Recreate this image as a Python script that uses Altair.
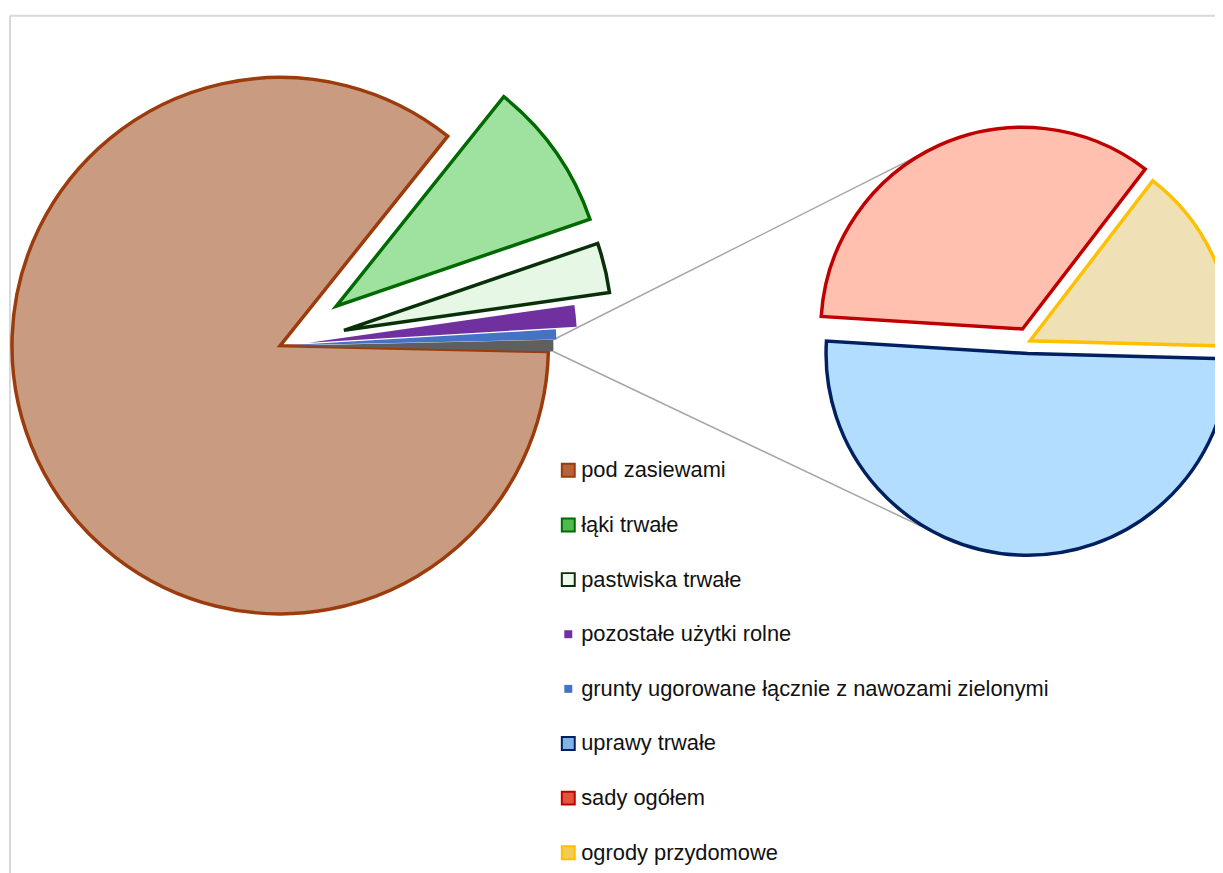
import math
import altair as alt
import pandas as pd

# ---------------- data ----------------
main_labels = [
    "pod zasiewami",
    "łąki trwałe",
    "pastwiska trwałe",
    "pozostałe użytki rolne",
    "grunty ugorowane łącznie z nawozami zielonymi",
]
main_values = [85.3, 9.0, 3.0, 1.3, 0.6]

sec_labels = ["uprawy trwałe", "sady ogółem", "ogrody przydomowe"]
sec_values = [0.354, 0.241, 0.105]

other_label = "pozostałe (wykres pomocniczy)"

# ---------------- styles ----------------
main_fill = ["#c99c81", "#9fe29f", "#e6f7e6", "#7030a0", "#4472c4", "#5f5f5f"]
main_stroke = ["#9c3b0c", "#006a00", "#0a300a", "#7030a0", "#4472c4", "#5f5f5f"]
main_sw = [3.5, 3.5, 3.5, 0, 0, 0]
main_explode = [0, 69, 66, 29, 8, 5]

sec_fill = ["#b3ddff", "#ffc0b0", "#efe0b6"]
sec_stroke = ["#002060", "#c00000", "#ffc000"]
sec_sw = [3.5, 3.5, 3.5]
sec_explode = [12, 14, 2]

legend_fill = ["#b5643a", "#4fbb4f", "#eef8ee", "#7030a0", "#4472c4", "#7fb4e8", "#e2553a", "#f3cc55"]
legend_stroke = ["#9c3b0c", "#006a00", "#0a300a", "#7030a0", "#4472c4", "#002060", "#c00000", "#ffc000"]
legend_sw = [2, 2, 2, 0, 0, 2, 2, 2]
legend_size = [169, 169, 169, 64, 64, 169, 169, 169]

# ---------------- layout (view pixels) ----------------
W, H = 1215, 865
MAIN_C = (274.0, 337.0)
MAIN_R = 270
SEC_C = (1027.0, 333.0)
SEC_R = 203
LEG_X_SYM = 564
LEG_X_TXT = 577
LEG_Y0 = 462.5
LEG_STEP = 55


def pie_frame(labels, values, start_deg, explode, center, fills, strokes, sws):
    total = sum(values)
    rows = []
    cum = 0.0
    s = math.radians(start_deg)
    for i, (lab, v) in enumerate(zip(labels, values)):
        c0, c1 = cum, cum + v
        cum = c1
        mid = s + 2 * math.pi * (c0 + c1) / 2 / total
        rows.append(dict(
            label=lab, value=v, cum0=c0, cum1=c1,
            px=center[0] + explode[i] * math.sin(mid),
            py=center[1] - explode[i] * math.cos(mid),
            fill=fills[i], stroke=strokes[i], sw=sws[i],
        ))
    return pd.DataFrame(rows), total


other_value = sum(sec_values)
all_main_labels = main_labels + [other_label]
all_main_values = main_values + [other_value]
main_total_v = sum(all_main_values)
main_start = 90 + 180 * other_value / main_total_v
sec_start = 91.5

main_df, main_total = pie_frame(all_main_labels, all_main_values, main_start, main_explode,
                                MAIN_C, main_fill, main_stroke, main_sw)
sec_df, sec_total = pie_frame(sec_labels, sec_values, sec_start, sec_explode,
                              SEC_C, sec_fill, sec_stroke, sec_sw)


def arc_layer(df, total, start_deg, radius):
    s = math.radians(start_deg)
    return alt.Chart(df).mark_arc(radius=radius, strokeJoin="miter").encode(
        x=alt.X("px:Q", scale=None, axis=None),
        y=alt.Y("py:Q", scale=None, axis=None),
        theta=alt.Theta("cum0:Q", scale=alt.Scale(domain=[0, total], range=[s, s + 2 * math.pi])),
        theta2="cum1:Q",
        fill=alt.Fill("fill:N", scale=None),
        stroke=alt.Stroke("stroke:N", scale=None),
        strokeWidth=alt.StrokeWidth("sw:Q", scale=None),
    )


main_layer = arc_layer(main_df, main_total, main_start, MAIN_R)
sec_layer = arc_layer(sec_df, sec_total, sec_start, SEC_R)

# ---------------- connector lines (tangents from the "other" slice corners) ----------------
orow = main_df.iloc[-1]
a0 = math.radians(main_start) + 2 * math.pi * orow.cum0 / main_total
a1 = math.radians(main_start) + 2 * math.pi * orow.cum1 / main_total
P_top = (orow.px + MAIN_R * math.sin(a0), orow.py - MAIN_R * math.cos(a0))
P_bot = (orow.px + MAIN_R * math.sin(a1), orow.py - MAIN_R * math.cos(a1))


def tangent(P, C, r, top):
    dx, dy = C[0] - P[0], C[1] - P[1]
    d = math.hypot(dx, dy)
    phi = math.asin(min(1.0, r / d))
    L = math.sqrt(max(0.0, d * d - r * r))
    base = math.atan2(dy, dx)
    cands = [(P[0] + L * math.cos(base + sg * phi), P[1] + L * math.sin(base + sg * phi)) for sg in (1, -1)]
    return min(cands, key=lambda t: t[1]) if top else max(cands, key=lambda t: t[1])


red = sec_df.iloc[1]
blue = sec_df.iloc[0]
T_top = tangent(P_top, (red.px, red.py), SEC_R, True)
T_bot = tangent(P_bot, (blue.px, blue.py), SEC_R, False)

lines_df = pd.DataFrame([
    dict(x=P_top[0], y=P_top[1], x2=T_top[0], y2=T_top[1]),
    dict(x=P_bot[0], y=P_bot[1], x2=T_bot[0], y2=T_bot[1]),
])
lines = alt.Chart(lines_df).mark_rule(color="#a6a6a6", strokeWidth=1.5).encode(
    x=alt.X("x:Q", scale=None, axis=None),
    y=alt.Y("y:Q", scale=None, axis=None),
    x2="x2:Q",
    y2="y2:Q",
)

# ---------------- legend ----------------
legend_labels = main_labels + sec_labels
leg_df = pd.DataFrame(dict(label=legend_labels, fill=legend_fill, stroke=legend_stroke,
                           sw=legend_sw, size=legend_size))
leg_y = alt.Y("label:N", axis=None,
              scale=alt.Scale(domain=legend_labels, range=[LEG_Y0, LEG_Y0 + LEG_STEP * (len(legend_labels) - 1)],
                              padding=0))
leg_sym = alt.Chart(leg_df).mark_point(shape="square", filled=True, opacity=1).encode(
    x=alt.value(LEG_X_SYM),
    y=leg_y,
    fill=alt.Fill("fill:N", scale=None),
    stroke=alt.Stroke("stroke:N", scale=None),
    strokeWidth=alt.StrokeWidth("sw:Q", scale=None),
    size=alt.Size("size:Q", scale=None),
)
leg_txt = alt.Chart(leg_df).mark_text(align="left", baseline="middle", font="Arial",
                                      fontSize=22, color="#111111").encode(
    x=alt.value(LEG_X_TXT),
    y=leg_y,
    text="label:N",
)

# ---------------- chart-area border (top and left edges visible) ----------------
border_top = alt.Chart(pd.DataFrame({"k": [0]})).mark_rule(color="#d9d9d9", strokeWidth=2).encode(
    x=alt.value(2), x2=alt.value(W + 20), y=alt.value(5))
border_left = alt.Chart(pd.DataFrame({"k": [0]})).mark_rule(color="#d9d9d9", strokeWidth=2).encode(
    x=alt.value(2), y=alt.value(5), y2=alt.value(H + 20))

chart = alt.layer(
    border_top, border_left, lines, main_layer, sec_layer, leg_sym, leg_txt
).resolve_scale(
    theta="independent", y="independent", x="independent"
).properties(
    width=W, height=H, padding=0, autosize="none"
).configure_view(stroke=None)

chart.save("out.html", embed_options={"renderer": "svg", "actions": False})
